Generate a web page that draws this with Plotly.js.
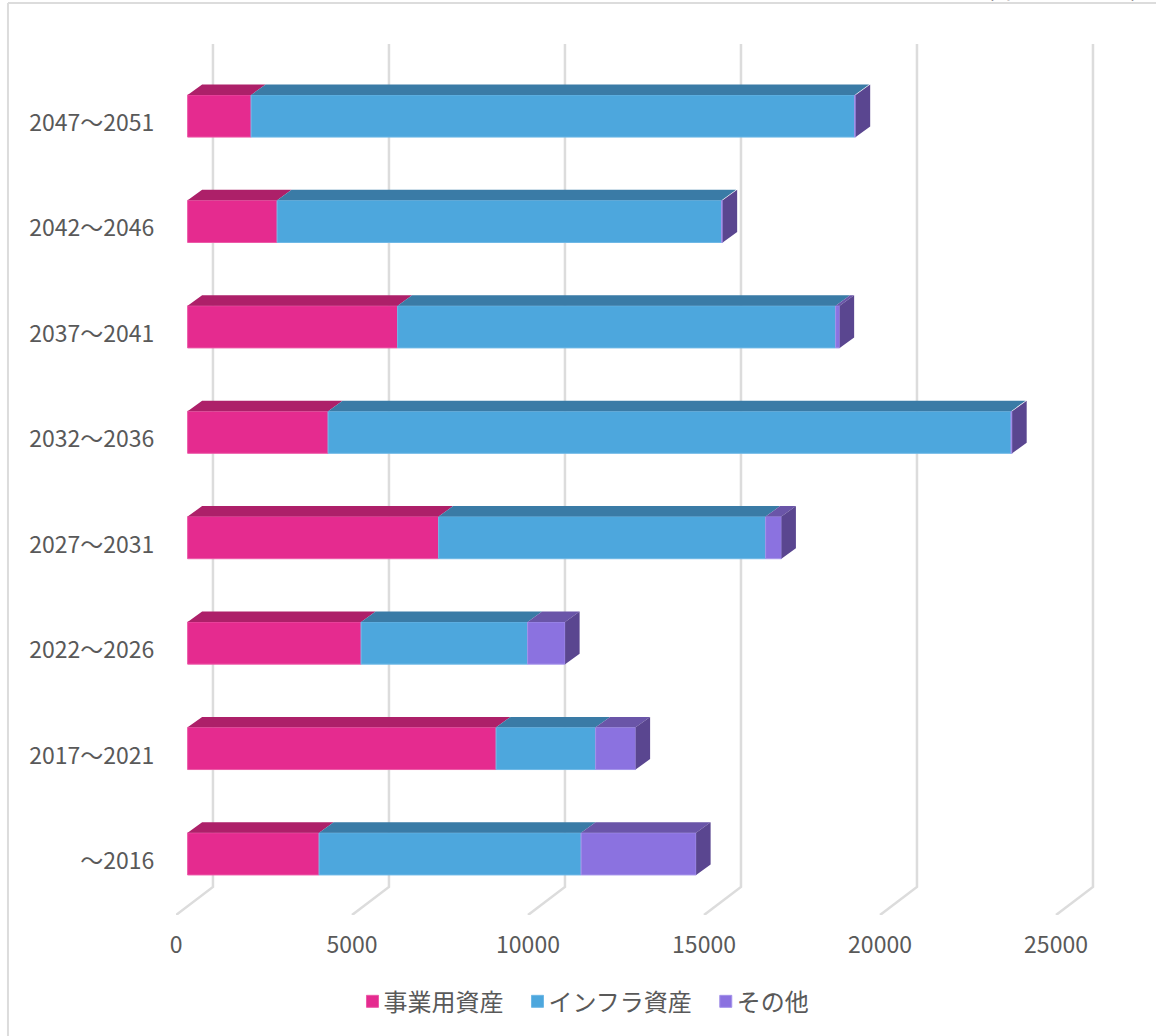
<!DOCTYPE html>
<html>
<head>
<meta charset="utf-8">
<script src="https://cdn.plot.ly/plotly-3.0.1.min.js"></script>
<style>html,body{margin:0;padding:0;background:#fff;overflow:hidden}#chart{width:1157px;height:1036px}</style>
</head>
<body>
<div id="chart"></div>
<script>
const categories = ["～2016","2017～2021","2022～2026","2027～2031","2032～2036","2037～2041","2042～2046","2047～2051"];
const jigyo = [3736, 8764, 4929, 7131, 3991, 5966, 2543, 1804];
const infra = [7443, 2827, 4730, 9289, 19404, 12443, 12627, 17145];
const other = [3267, 1136, 1065, 449, 30, 114, 30, 30];
const xTicks = [0, 5000, 10000, 15000, 20000, 25000];
const seriesNames = ["事業用資産", "インフラ資産", "その他"];
const frontColors = ["#e52b8f", "#4da7dd", "#8b72e0"];
const edgeColors = ["#ec5aa8", "#6fb8e6", "#a493ea"];
const topColors = ["#ad2069", "#3a7ba6", "#6a55a8"];
const sideColor = "#5a4690";

const font = '"Noto Sans CJK JP","Noto Sans",sans-serif';
const textColor = "#595959";
const xMax = 27869, yMin = -0.58, yMax = 7.816;
const barOffset = 330, halfBar = 0.2;
const depthX = 412, depthY = 0.0996;
const gridDX = 1050, gridDY = 0.2657, wallTop = 7.683;

const series = [jigyo, infra, other];
const idx = categories.map((_, i) => i);
const cum = [idx.map(() => barOffset)];
series.forEach((s, k) => cum.push(s.map((v, i) => cum[k][i] + v)));

const traces = [];
series.forEach((s, k) => {
  traces.push({
    type: "bar", orientation: "h", name: seriesNames[k],
    y: idx, x: s, base: cum[k], width: halfBar * 2,
    marker: {color: frontColors[k], line: {color: edgeColors[k], width: 1}},
    hovertemplate: seriesNames[k] + ": %{x}<extra></extra>"
  });
});
series.forEach((s, k) => {
  const xs = [], ys = [];
  idx.forEach(i => {
    const a = cum[k][i], b = cum[k + 1][i], t = i + halfBar;
    xs.push(a, a + depthX, b + depthX, b, a, null);
    ys.push(t, t + depthY, t + depthY, t, t, null);
  });
  traces.push({type: "scatter", mode: "lines", x: xs, y: ys, fill: "toself", fillcolor: topColors[k],
    line: {width: 0, color: topColors[k]}, showlegend: false, hoverinfo: "skip"});
});
(function () {
  const xs = [], ys = [];
  idx.forEach(i => {
    const e = cum[3][i], t = i + halfBar, b = i - halfBar;
    xs.push(e, e + depthX, e + depthX, e, e, null);
    ys.push(t, t + depthY, b + depthY, b, t, null);
  });
  traces.push({type: "scatter", mode: "lines", x: xs, y: ys, fill: "toself", fillcolor: sideColor,
    line: {width: 0, color: sideColor}, showlegend: false, hoverinfo: "skip"});
})();

const shapes = xTicks.map(t => ({
  type: "path", xref: "x", yref: "y", layer: "below",
  path: `M ${t},${yMin} L ${t + gridDX},${yMin + gridDY} L ${t + gridDX},${wallTop}`,
  line: {color: "#dcdcdc", width: 2.5}
}));
const frame = {color: "#dcdcdc", width: 2};
shapes.push({type: "line", xref: "paper", yref: "paper", x0: -0.1713, x1: -0.1713, y0: 1.0305, y1: -0.137, line: frame});
shapes.push({type: "line", xref: "paper", yref: "paper", x0: -0.1713, x1: 0.9990, y0: 1.0305, y1: 1.0305, line: frame});

const layout = {
  width: 1157, height: 1036,
  margin: {l: 176, r: 0, t: 30, b: 121, pad: 0},
  paper_bgcolor: "#fff", plot_bgcolor: "rgba(0,0,0,0)",
  barmode: "overlay", showlegend: true,
  font: {family: font, color: textColor, size: 23},
  xaxis: {range: [0, xMax], tickvals: xTicks, ticktext: xTicks.map(String), showgrid: false, zeroline: false,
    showline: false, ticks: "outside", ticklen: 9, tickcolor: "rgba(0,0,0,0)", tickfont: {family: font, size: 23, color: textColor}},
  yaxis: {range: [yMin, yMax], tickvals: idx, ticktext: categories, showgrid: false, zeroline: false, ticklabelshift: 7,
    showline: false, ticks: "outside", ticklen: 16, tickcolor: "rgba(0,0,0,0)", tickfont: {family: font, size: 23, color: textColor}},
  legend: {orientation: "h", x: 0.4108, xanchor: "center", y: -0.098, yanchor: "middle", itemwidth: 30,
    font: {family: font, size: 24, color: textColor}, bgcolor: "rgba(0,0,0,0)", traceorder: "normal"},
  shapes: shapes,
  annotations: [{xref: "paper", yref: "paper", x: 1.001, xanchor: "right", y: 1.0255, yanchor: "bottom", borderpad: 0,
    text: "（単位：億円）", showarrow: false, font: {family: font, size: 27, color: "#333"}}]
};
Plotly.newPlot("chart", traces, layout, {displayModeBar: false, staticPlot: true}).then(() => {
  document.querySelectorAll("#chart .legend .legendsymbols").forEach(g => g.setAttribute("transform", "translate(9,0)"));
});
</script>
</body>
</html>
